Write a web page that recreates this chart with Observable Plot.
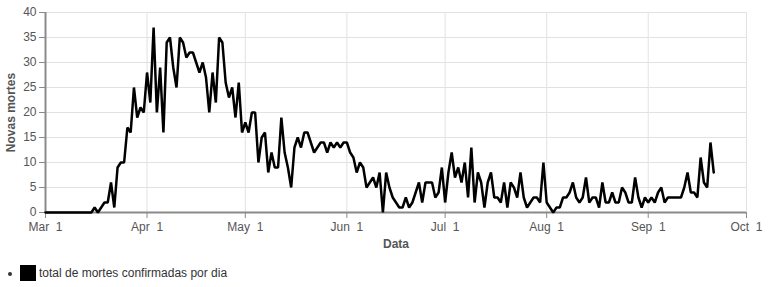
<!DOCTYPE html>
<html><head><meta charset="utf-8">
<script src="https://cdn.jsdelivr.net/npm/d3@7"></script>
<script src="https://cdn.jsdelivr.net/npm/@observablehq/plot@0.6"></script>
<style>
html,body{margin:0;padding:0;background:#fff;}
body{position:relative;width:768px;height:287px;overflow:hidden;font-family:"Liberation Sans",Arial,sans-serif;}
#chart svg{display:block;}
#legend{position:absolute;left:0;top:265px;height:16px;font-size:12px;color:#333;}
#legend .dot{position:absolute;left:8px;top:7px;width:4px;height:4px;border-radius:50%;background:#333;}
#legend .sw{position:absolute;left:20px;top:0;width:16px;height:16px;background:#000;}
#legend .lab{position:absolute;left:39px;top:0;line-height:16px;white-space:nowrap;}
</style></head>
<body>
<div id="chart"></div>
<div id="legend"><span class="dot"></span><span class="sw"></span><span class="lab" id="legLabel"></span></div>
<script>
const startDate = "2020-03-01";
const xDomain = ["2020-03-01", "2020-10-01"];
const yTicks = [0, 5, 10, 15, 20, 25, 30, 35, 40];
const yTitle = "Novas mortes";
const xTitle = "Data";
const seriesLabel = "total de mortes confirmadas por dia";
const deaths = [
  0,0,0,0,0,0,0,0,0,0,0,0,0,0,0,1,0,1,2,2,
  6,1,9,10,10,17,16,25,19,21,20,28,22,37,20,29,16,34,35,29,
  25,35,34,31,32,32,30,28,30,27,20,28,22,35,34,26,23,25,19,26,
  16,18,16,20,20,10,15,16,8,12,9,9,19,12,9,5,13,15,13,16,
  16,14,12,13,14,14,12,14,13,14,13,14,14,12,11,8,10,9,5,6,
  7,5,8,0,8,5,3,2,1,1,3,1,2,4,6,2,6,6,6,3,
  4,9,2,8,12,7,9,6,10,3,13,2,8,6,1,6,8,3,3,2,
  6,1,6,5,3,8,3,1,2,3,3,2,10,2,1,0,1,1,3,3,
  4,6,3,2,3,7,2,3,3,1,6,2,2,4,2,2,5,4,2,2,
  7,3,1,3,2,3,2,4,5,2,3,3,3,3,3,5,8,4,4,3,
  11,6,5,14,8
];

const t0 = new Date(startDate);
const data = deaths.map((v, i) => ({date: d3.utcDay.offset(t0, i), value: v}));
const xd = xDomain.map(s => new Date(s));
const monthTicks = d3.utcMonth.range(xd[0], d3.utcDay.offset(xd[1], 1));

const gridColor = "#e2e2e2";
const axisColor = "#8a8a8a";
const labelColor = "#555";

const chart = Plot.plot({
  width: 768,
  height: 255,
  marginLeft: 45,
  marginRight: 22,
  marginTop: 12,
  marginBottom: 43,
  style: {fontFamily: '"Liberation Sans", Arial, sans-serif', fontSize: "12px", background: "#fff"},
  x: {type: "utc", domain: xd},
  y: {domain: [0, 40]},
  marks: [
    Plot.gridY(yTicks, {stroke: gridColor, strokeOpacity: 1}),
    Plot.gridX(monthTicks, {stroke: gridColor, strokeOpacity: 1}),
    Plot.axisY(yTicks, {tickSize: 6, tickPadding: 3, stroke: axisColor, fill: labelColor, label: null, fontSize: 12}),
    Plot.axisX(monthTicks, {tickSize: 6, tickPadding: 4, stroke: axisColor, fill: labelColor, label: null, tickFormat: d3.utcFormat("%b %e"), fontSize: 12}),
    Plot.ruleY([0], {stroke: axisColor, strokeWidth: 2}),
    Plot.ruleX([xd[0]], {stroke: axisColor, strokeWidth: 2}),
    Plot.lineY(data, {x: "date", y: "value", stroke: "#000", strokeWidth: 2.5, strokeLinejoin: "miter"}),
    Plot.text([yTitle], {frameAnchor: "left", dx: -34, rotate: -90, textAnchor: "middle", lineAnchor: "middle", fontWeight: "bold", fill: labelColor, fontSize: 12}),
    Plot.text([xTitle], {frameAnchor: "bottom", dy: 32, textAnchor: "middle", lineAnchor: "middle", fontWeight: "bold", fill: labelColor, fontSize: 12})
  ]
});
document.getElementById("chart").appendChild(chart);
document.getElementById("legLabel").textContent = seriesLabel;
</script>
</body></html>
